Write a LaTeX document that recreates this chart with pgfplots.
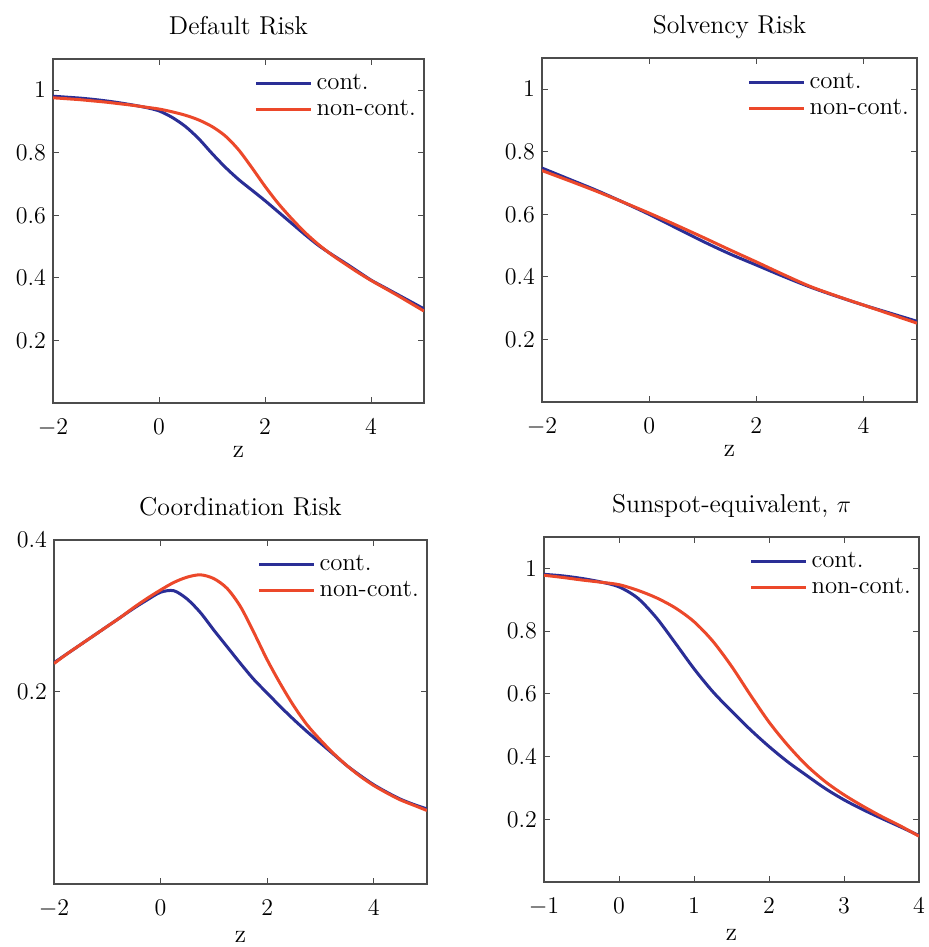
\documentclass[border=0pt]{standalone}
\usepackage{pgfplots}
\pgfplotsset{compat=1.18}
\definecolor{contblue}{RGB}{42,46,150}
\definecolor{ncred}{RGB}{236,72,42}

\pgfplotsset{
  panel/.style={
    scale only axis, anchor=south west,
    axis line style={black!70, line width=0.6pt},
    every tick/.style={black!70, line width=0.5pt},
    tick align=inside, major tick length=3pt,
    tick label style={font=\fontsize{13}{15}\selectfont},
    xticklabel style={yshift=-4.5pt},
    label style={font=\fontsize{12.9}{15}\selectfont},
    title style={font=\fontsize{12.9}{15}\selectfont, at={(0.5,1)}, anchor=base, yshift=6pt},
    xlabel style={at={(0.5,0)}, anchor=base},
    xlabel={z},
    legend style={draw=none, fill=none, at={(0.995,0.975)}, anchor=north east,
                  font=\fontsize{12.4}{14}\selectfont, inner sep=1pt},
    legend cell align=left,
    legend image code/.code={\draw[##1] (0pt,0pt) -- (27.5pt,0pt);},
    every axis plot/.append style={line width=1.5pt, smooth},
  },
  toprow/.style={xlabel style={yshift=-27.5pt}},
  botrow/.style={xlabel style={yshift=-29.3pt}},
}

\begin{document}
\begin{tikzpicture}
\useasboundingbox (0,0) rectangle (464.5pt,473.5pt);

% Default Risk
\begin{axis}[panel, toprow, at={(26.5pt,272pt)}, width=185.5pt, height=172pt,
  xmin=-2, xmax=5, ymin=0, ymax=1.1,
  xtick={-2,0,2,4}, ytick={0.2,0.4,0.6,0.8,1},
  title={Default Risk}]
\addplot[contblue] coordinates {
  (-2,0.981) (-1.75,0.978) (-1.5,0.975) (-1.25,0.971) (-1,0.966) (-0.75,0.960)
  (-0.5,0.953) (-0.25,0.945) (0,0.934) (0.25,0.913) (0.5,0.884) (0.75,0.845)
  (1,0.798) (1.25,0.754) (1.5,0.715) (1.75,0.681) (2,0.647) (2.25,0.611)
  (2.5,0.575) (2.75,0.539) (3,0.505) (3.25,0.476) (3.5,0.449) (3.75,0.421)
  (4,0.393) (4.25,0.370) (4.5,0.347) (4.75,0.324) (5,0.301)};
\addplot[ncred] coordinates {
  (-2,0.976) (-1.75,0.973) (-1.5,0.970) (-1.25,0.966) (-1,0.962) (-0.75,0.957)
  (-0.5,0.952) (-0.25,0.946) (0,0.940) (0.25,0.931) (0.5,0.920) (0.75,0.905)
  (1,0.884) (1.25,0.854) (1.5,0.810) (1.75,0.753) (2,0.693) (2.25,0.638)
  (2.5,0.590) (2.75,0.546) (3,0.508) (3.25,0.475) (3.5,0.446) (3.75,0.418)
  (4,0.392) (4.25,0.368) (4.5,0.344) (4.75,0.319) (5,0.294)};
\legend{cont.,non-cont.}
\end{axis}

% Solvency Risk
\begin{axis}[panel, toprow, at={(271pt,272.5pt)}, width=187.5pt, height=172pt,
  xmin=-2, xmax=5, ymin=0, ymax=1.1,
  xtick={-2,0,2,4}, ytick={0.2,0.4,0.6,0.8,1},
  title={Solvency Risk}]
\addplot[contblue] coordinates {
  (-2,0.748) (-1.5,0.713) (-1,0.678) (-0.5,0.640) (0,0.600) (0.5,0.557)
  (1,0.514) (1.5,0.474) (2,0.438) (2.5,0.402) (3,0.368) (3.5,0.338)
  (4,0.310) (4.5,0.284) (5,0.258)};
\addplot[ncred] coordinates {
  (-2,0.740) (-1.5,0.708) (-1,0.675) (-0.5,0.640) (0,0.604) (0.5,0.566)
  (1,0.527) (1.5,0.487) (2,0.448) (2.5,0.408) (3,0.370) (3.5,0.339)
  (4,0.310) (4.5,0.281) (5,0.252)};
\legend{cont.,non-cont.}
\end{axis}

% Coordination Risk
\begin{axis}[panel, botrow, at={(27pt,31.5pt)}, width=186.5pt, height=172pt,
  xmin=-2, xmax=5, ymin=-0.054, ymax=0.4,
  xtick={-2,0,2,4}, ytick={0.2,0.4},
  title={Coordination Risk}]
\addplot[contblue] coordinates {
  (-2,0.238) (-1.75,0.250) (-1.5,0.262) (-1.25,0.274) (-1,0.286) (-0.75,0.298)
  (-0.5,0.310) (-0.25,0.321) (0,0.331) (0.25,0.333) (0.5,0.322) (0.75,0.304)
  (1,0.281) (1.25,0.259) (1.5,0.237) (1.75,0.216) (2,0.198) (2.25,0.180)
  (2.5,0.163) (2.75,0.147) (3,0.132) (3.25,0.117) (3.5,0.102) (3.75,0.089)
  (4,0.077) (4.25,0.067) (4.5,0.058) (4.75,0.051) (5,0.045)};
\addplot[ncred] coordinates {
  (-2,0.237) (-1.75,0.250) (-1.5,0.262) (-1.25,0.274) (-1,0.286) (-0.75,0.298)
  (-0.5,0.311) (-0.25,0.323) (0,0.334) (0.25,0.344) (0.5,0.351) (0.75,0.354)
  (1,0.349) (1.25,0.336) (1.5,0.312) (1.75,0.278) (2,0.242) (2.25,0.210)
  (2.5,0.181) (2.75,0.156) (3,0.136) (3.25,0.118) (3.5,0.102) (3.75,0.088)
  (4,0.076) (4.25,0.066) (4.5,0.057) (4.75,0.050) (5,0.043)};
\legend{cont.,non-cont.}
\end{axis}

% Sunspot-equivalent
\begin{axis}[panel, botrow, at={(272pt,32.5pt)}, width=187.5pt, height=172.5pt,
  xmin=-1, xmax=4, ymin=0, ymax=1.1,
  xtick={-1,0,1,2,3,4}, ytick={0.2,0.4,0.6,0.8,1},
  title={Sunspot-equivalent, $\pi$}]
\addplot[contblue] coordinates {
  (-1,0.981) (-0.75,0.976) (-0.5,0.968) (-0.25,0.957) (0,0.941) (0.25,0.905)
  (0.5,0.842) (0.75,0.762) (1,0.680) (1.25,0.607) (1.5,0.545) (1.75,0.486)
  (2,0.432) (2.25,0.383) (2.5,0.340) (2.75,0.298) (3,0.262) (3.25,0.231)
  (3.5,0.203) (3.75,0.176) (4,0.148)};
\addplot[ncred] coordinates {
  (-1,0.978) (-0.75,0.971) (-0.5,0.963) (-0.25,0.956) (0,0.948) (0.25,0.930)
  (0.5,0.906) (0.75,0.874) (1,0.830) (1.25,0.768) (1.5,0.688) (1.75,0.597)
  (2,0.510) (2.25,0.436) (2.5,0.372) (2.75,0.320) (3,0.278) (3.25,0.242)
  (3.5,0.209) (3.75,0.179) (4,0.146)};
\legend{cont.,non-cont.}
\end{axis}
\end{tikzpicture}
\end{document}
